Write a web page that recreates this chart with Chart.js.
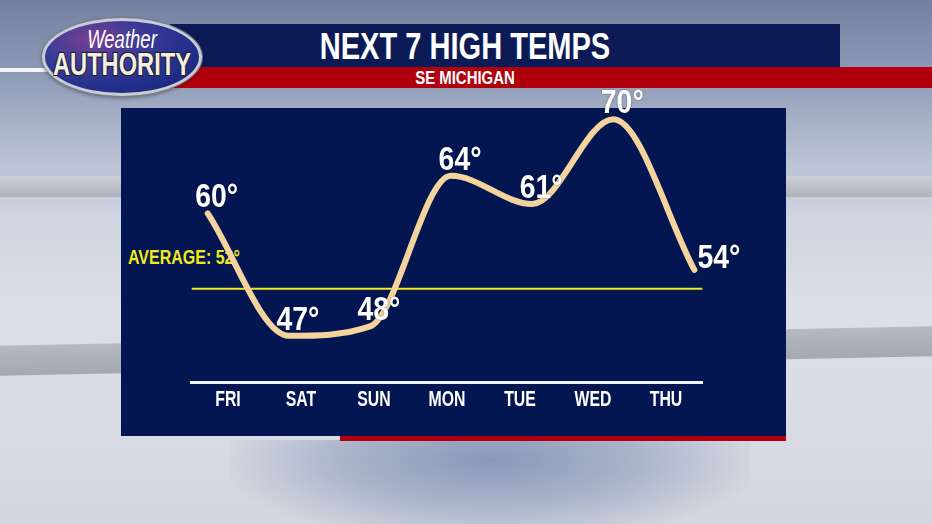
<!DOCTYPE html>
<html>
<head>
<meta charset="utf-8">
<script src="https://cdn.jsdelivr.net/npm/chart.js@4/dist/chart.umd.min.js"></script>
<style>
  html,body{margin:0;padding:0;}
  body{width:932px;height:524px;position:relative;overflow:hidden;
    background:linear-gradient(180deg,#72809f 0%,#8e9ab6 14%,#b4bdd0 28%,#d0d5e1 42%,#dcdfe7 60%,#d9dce4 80%,#d3d6de 100%);
    font-family:"Liberation Sans",Arial,sans-serif;}
  .abs{position:absolute;}
  .cond{transform:scaleX(0.74);transform-origin:50% 50%;white-space:nowrap;}
  #bar1{left:0;top:176px;width:932px;height:21px;background:linear-gradient(180deg,#cdd0d6,#aeb2bb);}
  #bar2{left:0;top:336px;width:932px;height:30px;background:linear-gradient(180deg,#b5b9c3,#a3a8b3);transform:skewY(-1.2deg);}
  #bowl{left:230px;top:440px;width:520px;height:100px;background:radial-gradient(ellipse at 50% 20%,#8a98b8 0%,#aab4ca 40%,rgba(210,214,224,0) 75%);}
  #titleband{left:170px;top:24px;width:670px;height:43px;background:#0c1a56;}
  #redband{left:170px;top:67px;width:762px;height:21px;background:#b0000e;}
  #whiteline{left:0;top:68px;width:60px;height:4px;background:#f4f6fa;}
  #title{left:165px;top:24px;width:600px;height:43px;line-height:45px;text-align:center;color:#fff;font-weight:bold;font-size:37px;transform:scaleX(0.785);}
  #subtitle{left:165px;top:67px;width:600px;height:21px;line-height:22px;text-align:center;color:#fff;font-weight:bold;font-size:18px;transform:scaleX(0.83);}
  #logo{left:42px;top:18px;width:154px;height:72px;border-radius:50%;
    background:radial-gradient(ellipse at 30% 25%,#7a3f90 0%,#3f3c98 30%,#22308c 65%,#17216c 100%);
    border:3px solid #c8ccd4;box-shadow:0 0 0 1px #7a7f8a, 0 2px 4px rgba(0,0,0,.4);}
  #logo1{left:42px;top:25px;width:160px;text-align:center;color:#fff;font-style:italic;font-size:25px;}
  #logo2{left:22px;top:46px;width:200px;text-align:center;color:#f3eee6;font-weight:bold;font-size:32px;text-shadow:1px 1px 0 #222,-1px -1px 0 #222,1px -1px 0 #222,-1px 1px 0 #222;}
  #panel{left:121px;top:108px;width:665px;height:328px;background:#031651;}
  #panelred{left:340px;top:436px;width:446px;height:5px;background:#b0000e;}
  #avg{left:128px;top:246px;color:#f2ea1c;font-weight:bold;font-size:20px;transform:scaleX(0.8);transform-origin:0 50%;}
  #c{position:absolute;left:0;top:0;}
</style>
</head>
<body>
<div class="abs" id="bar1"></div>
<div class="abs" id="bar2"></div>
<div class="abs" id="bowl"></div>
<div class="abs" id="whiteline"></div>
<div class="abs" id="titleband"></div>
<div class="abs" id="redband"></div>
<div class="abs cond" id="title">NEXT 7 HIGH TEMPS</div>
<div class="abs cond" id="subtitle">SE MICHIGAN</div>
<div class="abs" id="logo"></div>
<div class="abs cond" id="logo1">Weather</div>
<div class="abs cond" id="logo2">AUTHORITY</div>
<div class="abs" id="panel"></div>
<div class="abs" id="panelred"></div>
<div class="abs" id="avg">AVERAGE: 52°</div>
<canvas id="c" width="932" height="524"></canvas>
<script>
const days = ["FRI","SAT","SUN","MON","TUE","WED","THU"];
const highs = [60, 47, 48, 64, 61, 70, 54];
const average = 52;

const X_MIN = -0.2, X_MAX = 6.1;
const FONT = '"Liberation Sans", Arial, sans-serif';

function condText(ctx, txt, x, y, sx) {
  ctx.save();
  ctx.translate(x, y);
  ctx.scale(sx, 1);
  ctx.fillText(txt, 0, 0);
  ctx.restore();
}

const labelPlugin = {
  id: 'tempLabels',
  afterDatasetsDraw(chart) {
    const ctx = chart.ctx;
    // day labels under the axis line
    const xs = chart.scales.x;
    ctx.save();
    ctx.font = 'bold 22px ' + FONT;
    ctx.fillStyle = '#ffffff';
    ctx.textAlign = 'center';
    ctx.textBaseline = 'middle';
    days.forEach((d, i) => condText(ctx, d, xs.getPixelForTick(i), chart.chartArea.bottom + 18, 0.72));
    ctx.restore();

    // value labels
    const meta = chart.getDatasetMeta(0);
    ctx.save();
    ctx.font = 'bold 33px ' + FONT;
    ctx.fillStyle = '#ffffff';
    ctx.shadowColor = 'rgba(0,0,0,0.45)';
    ctx.shadowBlur = 2;
    meta.data.forEach((pt, i) => {
      const txt = highs[i] + '°';
      if (i === highs.length - 1) {
        ctx.textAlign = 'left'; ctx.textBaseline = 'middle';
        condText(ctx, txt, pt.x + 3, pt.y - 11, 0.86);
      } else {
        ctx.textAlign = 'center'; ctx.textBaseline = 'alphabetic';
        condText(ctx, txt, pt.x + 9, pt.y - 6, 0.86);
      }
    });
    ctx.restore();
  }
};

new Chart(document.getElementById('c'), {
  type: 'line',
  data: {
    labels: days,
    datasets: [
      {
        data: highs.map((v, i) => ({x: i, y: v})),
        xAxisID: 'xl',
        borderColor: '#f4d49c',
        borderWidth: 6,
        cubicInterpolationMode: 'monotone',
        pointRadius: 0,
        clip: false,
        borderCapStyle: 'round'
      },
      {
        data: [{x: X_MIN, y: average}, {x: X_MAX, y: average}],
        xAxisID: 'xl',
        borderColor: '#eeea22',
        borderWidth: 2,
        pointRadius: 0,
        tension: 0
      }
    ]
  },
  plugins: [labelPlugin],
  options: {
    responsive: false,
    animation: false,
    events: [],
    layout: { padding: { left: 191.5, right: 229.5, top: 108, bottom: 88 } },
    plugins: { legend: { display: false }, tooltip: { enabled: false } },
    scales: {
      x: {
        type: 'category',
        offset: true,
        grid: { display: false, drawTicks: false },
        border: { display: true, color: '#f2f2f2', width: 3 },
        ticks: { color: 'rgba(0,0,0,0)', font: { size: 18 }, padding: 8, maxRotation: 0 },
        afterFit(scale) { scale.height = 54; }
      },
      xl: {
        type: 'linear', display: false, min: X_MIN, max: X_MAX
      },
      y: {
        display: false, min: 42.1, max: 71.2
      }
    }
  }
});
</script>
</body>
</html>
